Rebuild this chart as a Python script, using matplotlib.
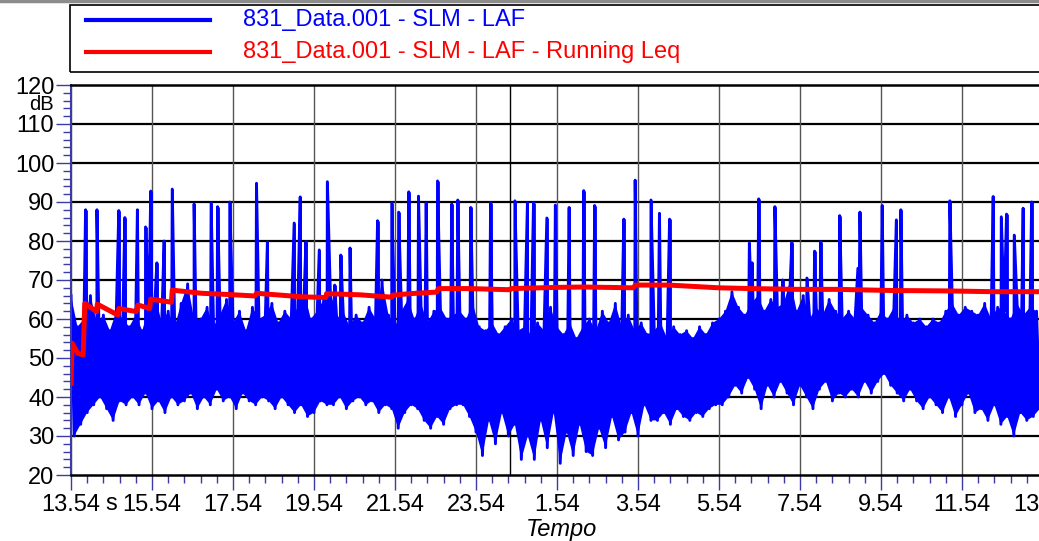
import matplotlib
matplotlib.use('Agg')
import matplotlib.pyplot as plt
from matplotlib.ticker import MultipleLocator
from matplotlib.lines import Line2D
from matplotlib.patches import Rectangle
import numpy as np

plt.rcParams['font.family'] = ['Liberation Sans', 'DejaVu Sans']

## time axis (seconds since start, clock label wraps after 23.54)
tick_pos = [0, 2, 4, 6, 8, 10, 12, 14, 16, 18, 20, 22, 24]
tick_labels = ['13.54', '15.54', '17.54', '19.54', '21.54', '23.54', '1.54',
               '3.54', '5.54', '7.54', '9.54', '11.54', '13.54']
file_break = 10.84

## LAF trace, decimated to hi/lo pairs every 0.16 s
step = 0.16
laf_hi = [66, 58, 60, 66, 59, 61, 57, 62, 60, 58,
          61, 57, 63, 66, 59, 62, 58, 64, 69, 60,
          60, 63, 58, 61, 65, 59, 62, 57, 63, 60,
          61, 64, 59, 62, 60, 63, 67, 60, 62, 65,
          68, 60, 62, 58, 61, 59, 63, 60, 70, 61,
          58, 62, 65, 60, 64, 59, 62, 63, 60, 61,
          62, 60, 64, 58, 57, 59, 56, 58, 60, 57,
          58, 56, 59, 57, 63, 58, 56, 59, 55, 58,
          60, 57, 62, 59, 64, 58, 61, 57, 59, 56,
          57, 59, 55, 58, 56, 57, 55, 58, 56, 59,
          60, 62, 67, 63, 61, 64, 66, 62, 65, 63,
          64, 70, 62, 66, 60, 63, 61, 65, 62, 60,
          62, 60, 63, 61, 59, 62, 60, 63, 59, 61,
          59, 60, 58, 60, 59, 62, 64, 61, 63, 62,
          61, 64, 60, 63, 62, 60, 64, 61, 63, 62]
laf_lo = [30, 33, 36, 38, 40, 37, 34, 39, 38, 40,
          38, 41, 37, 39, 36, 40, 38, 39, 41, 37,
          40, 38, 42, 39, 40, 37, 41, 39, 38, 40,
          39, 37, 40, 38, 36, 38, 35, 36, 39, 38,
          38, 40, 37, 39, 40, 38, 39, 36, 38, 37,
          32, 36, 38, 37, 34, 32, 35, 33, 37, 38,
          38, 35, 31, 25, 34, 28, 36, 30, 33, 24,
          30, 24, 34, 27, 36, 23, 31, 25, 33, 26,
          25, 32, 27, 35, 29, 31, 36, 30, 38, 34,
          34, 36, 33, 37, 35, 34, 36, 35, 37, 38,
          38, 40, 43, 41, 45, 42, 37, 43, 40, 44,
          41, 38, 43, 40, 37, 42, 44, 39, 41, 40,
          42, 40, 44, 41, 44, 46, 43, 41, 39, 42,
          39, 37, 40, 38, 36, 40, 35, 38, 41, 36,
          37, 34, 38, 33, 35, 30, 36, 34, 35, 37]

## short peaks
spike_t = [0.36, 0.64, 1.18, 1.33, 1.64, 1.84, 1.97, 2.12, 2.30, 2.50,
           3.04, 3.46, 3.62, 3.92, 4.58, 4.85, 5.51, 5.66, 5.80, 6.13,
           6.33, 6.51, 6.66, 6.89, 7.57, 7.92, 8.09, 8.34, 8.58, 8.77,
           9.05, 9.40, 9.55, 9.87, 10.36, 10.96, 11.27, 11.42, 11.75, 11.96,
           12.30, 12.66, 12.93, 13.65, 13.93, 14.32, 14.53, 14.78, 16.75, 16.82,
           16.98, 17.38, 17.57, 17.80, 18.17, 18.36, 18.51, 18.98, 19.43, 19.48,
           20.03, 20.38, 20.49, 21.70, 22.77, 22.97, 23.10, 23.29, 23.51, 23.72]
spike_db = [88, 88, 87.8, 86, 88, 83.6, 92.8, 74.4, 80, 93.3,
            89.5, 89.7, 88.8, 90, 94.8, 79.8, 84.6, 91.3, 79.8, 77.7,
            95.2, 68.7, 76.4, 78.2, 85.2, 89.7, 87.4, 92.6, 91.5, 89.7,
            95.4, 89.5, 90.5, 88.6, 89.8, 90.3, 89.8, 89.8, 85.9, 89.2,
            88.6, 92.9, 89.1, 85.6, 95.6, 90.5, 87.1, 85.6, 79.5, 74.4,
            90.8, 88.8, 70, 79.6, 70.5, 77.4, 79.8, 86.5, 73, 87.4,
            89.1, 85.4, 88, 90.3, 91.4, 86.2, 86.9, 81.5, 88.4, 90]

## running Leq
leq_t = [0.0, 0.025, 0.17, 0.30, 0.34, 0.63, 0.65, 1.16, 1.18, 1.61,
         1.65, 1.94, 1.97, 2.48, 2.50, 3.22, 4.04, 4.54, 4.58, 5.69,
         5.98, 6.29, 6.31, 7.14, 7.92, 7.94, 8.37, 9.03, 9.07, 9.85,
         10.84, 10.87, 11.95, 12.66, 13.89, 13.93, 14.76, 15.99, 16.81, 17.93,
         18.91, 20.32, 21.64, 22.79, 23.9, 24.2]
leq_db = [43.5, 53.8, 51.2, 50.8, 64.0, 61.9, 63.8, 61.0, 62.7, 61.9,
          63.6, 62.7, 65.1, 64.3, 67.4, 66.6, 66.2, 65.9, 66.6, 65.7,
          65.6, 65.5, 66.5, 66.2, 65.6, 66.1, 66.5, 66.9, 67.8, 67.8,
          67.5, 67.8, 68.1, 68.2, 68.0, 68.7, 68.7, 68.0, 67.8, 67.6,
          67.6, 67.3, 67.2, 67.0, 67.0, 67.0]

## build LAF line: hi, lo alternately, peaks slotted in by time
t_hi = np.arange(len(laf_hi)) * step
t_lo = t_hi + step / 2
t_all = np.concatenate([t_hi, t_lo, spike_t])
v_all = np.concatenate([laf_hi, laf_lo, spike_db])
order = np.argsort(t_all, kind='stable')

W, H = 1039, 541
navy = '#3a3aa8'
blue = '#0000ff'
fs = 17
fig = plt.figure(figsize=(W / 100, H / 100), dpi=100)
ax = fig.add_axes([71 / W, (H - 475) / H, 980 / W, 390 / H])

# dense band: min/max envelope filled, trace drawn over it
ax.fill(np.concatenate([t_hi, t_lo[::-1]]), np.concatenate([laf_hi, laf_lo[::-1]]),
        color=blue, lw=0, zorder=2)
ax.plot(t_all[order], v_all[order], color=blue, lw=2.1, zorder=2)
ax.vlines(spike_t, 50, spike_db, color=blue, lw=2.0, zorder=2)
ax.plot(leq_t, leq_db, color='#ff0000', lw=3.6, zorder=3)

ax.set_xlim(0, 980 / 40.5)
ax.set_ylim(20, 120)

## grid
for y in range(30, 120, 10):
    ax.axhline(y, color='black', lw=1.6, zorder=1)
for x in tick_pos:
    ax.axvline(x, color='#555555', lw=1.0, zorder=1)
ax.axvline(file_break, color='black', lw=1.0, zorder=1)

## ticks
ax.set_xticks(tick_pos)
ax.set_xticklabels(tick_labels)
ax.xaxis.set_minor_locator(MultipleLocator(0.4))
ax.yaxis.set_major_locator(MultipleLocator(10))
ax.yaxis.set_minor_locator(MultipleLocator(2))
ax.tick_params(which='both', direction='out', color=navy, width=1.0, labelsize=fs)
ax.tick_params(which='major', length=11)
ax.tick_params(which='minor', length=5.5)
ax.tick_params(axis='x', which='major', pad=3)
ax.tick_params(axis='y', which='major', pad=1)

ax.spines['left'].set_color(navy)
ax.spines['left'].set_linewidth(1.5)
ax.spines['bottom'].set_linewidth(1.8)
ax.spines['top'].set_linewidth(1.8)
ax.spines['right'].set_visible(False)

ax.set_xlabel('Tempo', style='italic', fontsize=fs, labelpad=1)
fig.text(105 / W, 1 - 510 / H, 's', fontsize=fs, ha='left', va='baseline')
fig.text(54 / W, 1 - 105 / H, 'dB', fontsize=14.5, ha='right', va='center')

## legend box
fig.add_artist(Rectangle((70 / W, 1 - 72 / H), 980 / W, 67 / H, transform=fig.transFigure,
                         fill=False, edgecolor='black', lw=1.2))
fig.add_artist(Line2D([86 / W, 210 / W], [1 - 20 / H, 1 - 20 / H], transform=fig.transFigure,
                      color=blue, lw=3))
fig.add_artist(Line2D([86 / W, 210 / W], [1 - 52 / H, 1 - 52 / H], transform=fig.transFigure,
                      color='#ff0000', lw=3))
fig.text(243 / W, 1 - 20 / H, '831_Data.001 - SLM - LAF', color=blue,
         fontsize=fs, va='center')
fig.text(243 / W, 1 - 52 / H, '831_Data.001 - SLM - LAF - Running Leq', color='#ff0000',
         fontsize=fs, va='center')
fig.add_artist(Line2D([0, 1], [1 - 1 / H, 1 - 1 / H], transform=fig.transFigure,
                      color='#8c8c8c', lw=2.5))

plt.savefig('out.png', dpi=100)
